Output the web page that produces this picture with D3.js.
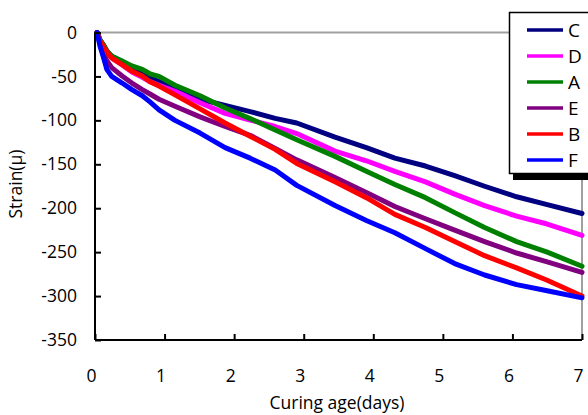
<!DOCTYPE html>
<html><head><meta charset="utf-8">
<script src="https://cdn.jsdelivr.net/npm/d3@7"></script>
<style>body{margin:0;background:#fff}svg{display:block}text{font-family:"Open Sans",sans-serif;fill:#000}</style>
</head><body><svg id="c" width="588" height="415"></svg>
<script>
const days = [0.03,0.07,0.12,0.17,0.24,0.39,0.53,0.68,0.79,0.92,1.15,1.51,1.87,2.23,2.59,2.9,3.45,3.9,4.31,4.75,5.17,5.6,6.06,6.5,7.0];
const seriesNames = ["C","D","A","E","B","F"];
const seriesColors = ["#000080","#ff00ff","#008000","#800080","#ff0000","#0000ff"];
const C = [0,-8,-14,-21,-27,-33,-40,-47,-52,-56,-63,-76,-83,-90,-97.7,-103,-119,-131,-143,-152,-163,-175,-187,-196,-206];
const D = [0,-9,-15,-22,-29,-37,-45,-51,-56,-60,-67,-80,-92,-99.6,-107,-115,-135,-146,-158,-170,-184,-197,-209,-218,-231];
const A = [0,-8,-14,-21,-27,-32.5,-38,-42,-47,-50,-60,-72,-86,-98,-111,-122,-141,-158,-173,-188,-205,-222,-238,-250,-266];
const E = [0,-12,-24,-32,-40,-49.5,-57.5,-65,-70,-76,-84,-96,-107,-117,-132,-145,-165,-182,-198,-212,-225,-238,-251,-261,-273];
const B = [0,-9,-16,-22,-29,-36.6,-44,-49.5,-56,-61,-71,-87,-103,-118,-133,-149,-170,-188,-207,-222,-238,-254,-268,-282,-300];
const F = [0,-15,-28,-42,-50,-57.5,-65,-72,-79,-88,-100,-114.5,-131,-143,-156.5,-174,-197,-214,-228,-246,-263,-276,-287,-294,-302];
const seriesValues = [C,D,A,E,B,F];
const xTicks = [0,1,2,3,4,5,6,7];
const yTicks = [0,-50,-100,-150,-200,-250,-300,-350];

const svg = d3.select("#c");
const x = d3.scaleLinear().domain([0,7]).range([95,582]);
const y = d3.scaleLinear().domain([-350,0]).range([340,32.5]);

svg.append("line").attr("x1",x(0)).attr("x2",x(7)).attr("y1",y(0)).attr("y2",y(0)).attr("stroke","#a0a0a0").attr("stroke-width",2);
svg.append("line").attr("x1",x(7)).attr("x2",x(7)).attr("y1",y(0)).attr("y2",y(-350)).attr("stroke","#a0a0a0").attr("stroke-width",2);

const line = d3.line().x(d=>x(d[0])).y(d=>y(d[1]));
seriesValues.forEach((vals,i)=>{
  svg.append("path").datum(days.map((d,j)=>[d,vals[j]]))
    .attr("d",line).attr("fill","none").attr("stroke",seriesColors[i])
    .attr("stroke-width",5).attr("stroke-linejoin","round").attr("stroke-linecap","round");
});

const fmt = d => String(d);
const yAxis = d3.axisLeft(y).tickValues(yTicks).tickSize(-6).tickPadding(18).tickFormat(fmt);
const gy = svg.append("g").attr("transform",`translate(${x(0)},0)`).call(yAxis);
const xAxis = d3.axisBottom(x).tickValues(xTicks).tickSize(-6).tickPadding(30).tickFormat(fmt);
const gx = svg.append("g").attr("transform",`translate(0,${y(-350)})`).call(xAxis);
[gy,gx].forEach(g=>{
  g.select(".domain").attr("stroke","#000").attr("stroke-width",2);
  g.selectAll(".tick line").attr("stroke","#000").attr("stroke-width",2);
  g.selectAll(".tick text").style("font-family","'Open Sans',sans-serif").style("font-size","17.5px").attr("fill","#000");
});
gx.select(".domain").attr("d",`M${x(0)},0H${x(7)}`);
gy.select(".domain").attr("d",`M0,${y(-350)}V${y(0)}`);
gx.selectAll(".tick text").attr("dx",-4);

svg.append("text").attr("x",337).attr("y",409).attr("text-anchor","middle").style("font-size","17.5px").text("Curing age(days)");
svg.append("text").attr("transform","translate(22,184) rotate(-90)").attr("text-anchor","middle").style("font-size","17.5px").text("Strain(μ)");

const lg = svg.append("g");
lg.append("rect").attr("x",513).attr("y",18).attr("width",100).attr("height",162).attr("fill","#000");
lg.append("rect").attr("x",509.5).attr("y",12.5).attr("width",100).attr("height",161).attr("fill","#fff").attr("stroke","#000").attr("stroke-width",1.5);
seriesNames.forEach((n,i)=>{
  const cy = 30 + i*26;
  lg.append("line").attr("x1",527).attr("x2",563).attr("y1",cy).attr("y2",cy).attr("stroke",seriesColors[i]).attr("stroke-width",3.5);
  lg.append("text").attr("x",568).attr("y",cy+7).style("font-size","19px").text(n);
});
</script></body></html>
